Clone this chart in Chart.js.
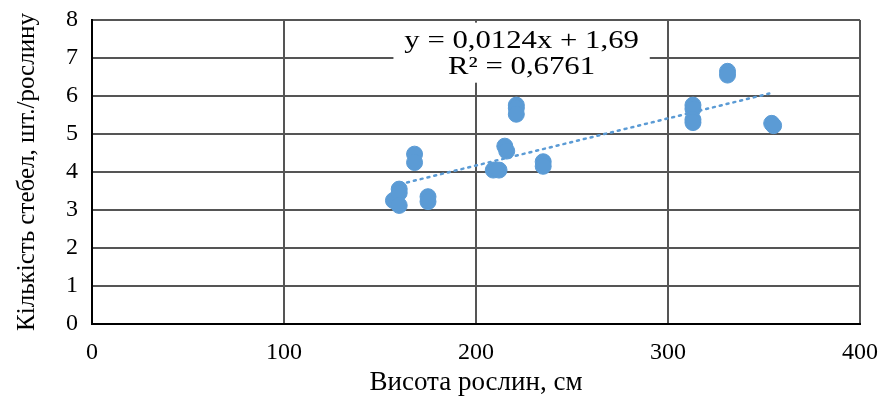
<!DOCTYPE html>
<html>
<head>
<meta charset="utf-8">
<script src="https://cdn.jsdelivr.net/npm/chart.js@4"></script>
<style>
  html, body { margin: 0; padding: 0; background: #fff; }
  #wrap { width: 889px; height: 396px; }
</style>
</head>
<body>
<div id="wrap"><canvas id="stebla_vysota"></canvas></div>
<script>
// висота рослин (см) і кількість стебел (шт./рослину)
var vysota = [157, 160, 160, 160, 168, 168, 175, 175, 209, 212, 215, 216, 221, 221, 221, 235, 235, 313, 313, 313, 313, 331, 331, 354, 355];
var stebla = [3.25, 3.55, 3.45, 3.12, 4.47, 4.25, 3.35, 3.22, 4.05, 4.05, 4.68, 4.55, 5.76, 5.68, 5.52, 4.27, 4.15, 5.76, 5.66, 5.38, 5.30, 6.65, 6.55, 5.28, 5.22];

// лінійний тренд з Excel
var nahyl = 0.0124;
var zsuv = 1.69;
var rivniannia = ["y = 0,0124x + 1,69", "R² = 0,6761"];

var x_ticks = [0, 100, 200, 300, 400];
var y_ticks = [0, 1, 2, 3, 4, 5, 6, 7, 8];

var blakytnyi = "#5B9BD5";
var shryft = "Liberation Serif";

var tochky = vysota.map(function (v, i) {
  return { x: v, y: stebla[i] };
});
var x_min = Math.min.apply(null, vysota);
var x_max = Math.max.apply(null, vysota);
var trend = [
  { x: x_min, y: nahyl * x_min + zsuv },
  { x: x_max, y: nahyl * x_max + zsuv },
];

// підпис рівняння на білому тлі
const pidpys_rivniannia = {
  id: "pidpys_rivniannia",
  beforeDatasetsDraw(chart) {
    const ctx = chart.ctx;
    const x = chart.scales.x;
    const y = chart.scales.y;
    const left = x.getPixelForValue(157);
    const right = x.getPixelForValue(290.5);
    const top = y.getPixelForValue(7.93);
    const bottom = y.getPixelForValue(6.35);
    ctx.save();
    ctx.fillStyle = "#fff";
    ctx.fillRect(left, top, right - left, bottom - top);
    ctx.fillStyle = "#000";
    ctx.font = "25px '" + shryft + "'";
    ctx.textAlign = "center";
    ctx.textBaseline = "middle";
    ctx.translate((left + right) / 2, 0);
    ctx.scale(1.23, 1);
    ctx.fillText(rivniannia[0], 0, top + 19);
    ctx.fillText(rivniannia[1], 0, top + 45);
    ctx.restore();
  },
};

const ctx = document.getElementById("stebla_vysota").getContext("2d");
const myChart = new Chart(ctx, {
  type: "scatter",
  data: {
    datasets: [
      {
        label: "Кількість стебел",
        data: tochky,
        backgroundColor: blakytnyi,
        borderColor: blakytnyi,
        pointRadius: 8,
        pointHoverRadius: 8,
        order: 1,
      },
      {
        type: "line",
        label: "Лінійний тренд",
        data: trend,
        borderColor: blakytnyi,
        borderWidth: 2.5,
        borderDash: [2, 5],
        borderCapStyle: "round",
        pointRadius: 0,
        fill: false,
        order: 2,
      },
    ],
  },
  options: {
    responsive: true,
    maintainAspectRatio: false,
    animation: false,
    layout: {
      padding: { top: 20, right: 29, left: 0, bottom: 0 },
    },
    plugins: {
      legend: { display: false },
      tooltip: { enabled: false },
    },
    scales: {
      x: {
        type: "linear",
        min: 0,
        max: 400,
        afterFit: function (s) {
          s.height = 72;
          s.paddingLeft = 0;
          s.paddingRight = 0;
        },
        afterBuildTicks: function (s) {
          s.ticks = x_ticks.map(function (v) { return { value: v }; });
        },
        grid: { color: "#555555", lineWidth: 2, drawTicks: false },
        border: { color: "#000", width: 2 },
        ticks: {
          padding: 14,
          color: "#000",
          font: { family: shryft, size: 24 },
        },
        title: {
          display: true,
          text: "Висота рослин, см",
          color: "#000",
          font: { family: shryft, size: 27, lineHeight: 1 },
          padding: { top: 0, bottom: 0 },
        },
      },
      y: {
        min: 0,
        max: 8,
        afterFit: function (s) {
          s.width = 92;
          s.paddingTop = 0;
          s.paddingBottom = 0;
        },
        afterBuildTicks: function (s) {
          s.ticks = y_ticks.map(function (v) { return { value: v }; });
        },
        grid: { color: "#555555", lineWidth: 2, drawTicks: false },
        border: { color: "#000", width: 2 },
        ticks: {
          padding: 14,
          color: "#000",
          font: { family: shryft, size: 24 },
        },
        title: {
          display: true,
          text: "Кількість стебел, шт./рослину",
          color: "#000",
          font: { family: shryft, size: 25, lineHeight: 1.2 },
          padding: { top: 12, bottom: 0 },
        },
      },
    },
  },
  plugins: [pidpys_rivniannia],
});
</script>
</body>
</html>
